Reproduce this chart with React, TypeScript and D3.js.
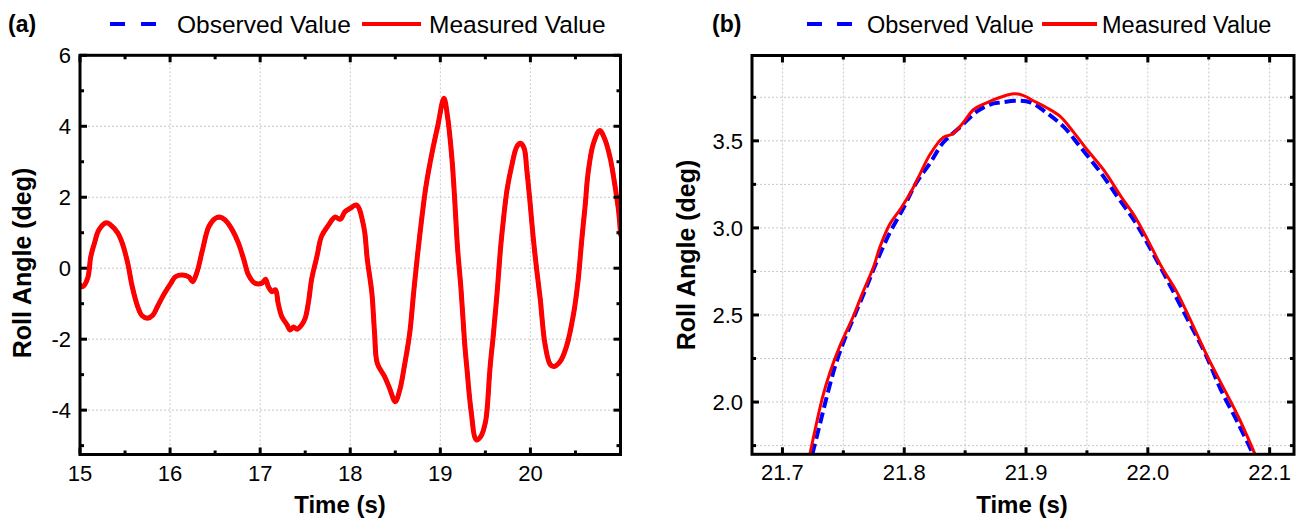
import React from 'react';
import * as d3 from 'd3';

// ---------- Panel (a): roll angle over 15–21 s ----------
const timeA = [
  15.0, 15.03, 15.085, 15.12, 15.16, 15.21, 15.29, 15.34, 15.42, 15.47, 15.53, 15.58, 15.64, 15.69, 15.75,
  15.81, 15.86, 15.94, 16.01, 16.06, 16.14, 16.21, 16.25, 16.3, 16.36, 16.43, 16.5, 16.55, 16.61, 16.69,
  16.76, 16.82, 16.87, 16.94, 17.02, 17.06, 17.09, 17.13, 17.17, 17.2, 17.24, 17.3, 17.33, 17.37, 17.41,
  17.46, 17.5, 17.54, 17.57, 17.63, 17.68, 17.76, 17.83, 17.89, 17.94, 18.0, 18.07, 18.15, 18.19, 18.24,
  18.27, 18.3, 18.38, 18.43, 18.5, 18.55, 18.6, 18.66, 18.71, 18.77, 18.84, 18.91, 18.97, 19.04, 19.08,
  19.13, 19.16, 19.19, 19.23, 19.27, 19.3, 19.34, 19.4, 19.45, 19.5, 19.52, 19.55, 19.59, 19.63, 19.67,
  19.7, 19.74, 19.79, 19.85, 19.89, 19.93, 19.96, 20.0, 20.03, 20.07, 20.11, 20.16, 20.22, 20.26, 20.33,
  20.4, 20.48, 20.53, 20.57, 20.61, 20.64, 20.7, 20.77, 20.83, 20.89, 20.94, 20.98, 21.0,
];
const measuredA = [
  -0.47, -0.52, -0.28, 0.33, 0.7, 1.08, 1.28, 1.22, 0.99, 0.7, 0.14, -0.52, -1.08, -1.34, -1.41,
  -1.32, -1.08, -0.7, -0.42, -0.24, -0.19, -0.25, -0.38, -0.1, 0.52, 1.17, 1.4, 1.44, 1.36, 1.08,
  0.7, 0.23, -0.19, -0.42, -0.42, -0.31, -0.52, -0.66, -0.61, -0.99, -1.36, -1.6, -1.74, -1.66, -1.72,
  -1.6, -1.41, -0.89, -0.33, 0.33, 0.89, 1.22, 1.44, 1.38, 1.59, 1.69, 1.78, 1.17, 0.23, -0.7,
  -1.83, -2.68, -3.05, -3.34, -3.76, -3.43, -2.77, -1.83, -0.52, 0.89, 2.3, 3.28, 3.99, 4.79, 4.27,
  3.05, 1.92, 0.61, -0.61, -2.11, -2.96, -3.99, -4.84, -4.74, -4.35, -3.95, -2.86, -1.83, -0.7, 0.61,
  1.36, 2.2, 2.86, 3.43, 3.52, 3.38, 2.77, 1.74, 0.89, -0.05, -0.89, -2.11, -2.72, -2.77, -2.63,
  -2.21, -1.27, -0.33, 0.8, 1.83, 2.68, 3.52, 3.88, 3.61, 3.05, 2.3, 1.59, 0.95,
];
const observedA = [
  -0.47, -0.52, -0.28, 0.33, 0.7, 1.08, 1.27, 1.22, 0.99, 0.7, 0.14, -0.52, -1.08, -1.34, -1.4,
  -1.32, -1.08, -0.7, -0.42, -0.24, -0.19, -0.25, -0.36, -0.1, 0.52, 1.17, 1.4, 1.43, 1.36, 1.08,
  0.7, 0.23, -0.19, -0.42, -0.42, -0.33, -0.5, -0.64, -0.63, -0.99, -1.36, -1.6, -1.72, -1.68, -1.7,
  -1.6, -1.41, -0.89, -0.33, 0.33, 0.89, 1.22, 1.43, 1.4, 1.58, 1.69, 1.77, 1.17, 0.23, -0.7,
  -1.83, -2.68, -3.05, -3.34, -3.74, -3.43, -2.77, -1.83, -0.52, 0.89, 2.3, 3.28, 3.99, 4.77, 4.27,
  3.05, 1.92, 0.61, -0.61, -2.11, -2.96, -3.99, -4.82, -4.74, -4.35, -3.95, -2.86, -1.83, -0.7, 0.61,
  1.36, 2.2, 2.86, 3.43, 3.51, 3.38, 2.77, 1.74, 0.89, -0.05, -0.89, -2.11, -2.7, -2.76, -2.63,
  -2.21, -1.27, -0.33, 0.8, 1.83, 2.68, 3.52, 3.86, 3.61, 3.05, 2.3, 1.59, 0.95,
];
const xTicksA = [15, 16, 17, 18, 19, 20];
const xMinorA = [15.5, 16.5, 17.5, 18.5, 19.5, 20.5];
const yTicksA = [-4, -2, 0, 2, 4, 6];
const yMinorA = [-5, -3, -1, 1, 3, 5];

// ---------- Panel (b): close-up of the peak near 21.9 s ----------
const timeMeasuredB = [
  21.7225, 21.728, 21.733, 21.739, 21.747, 21.758, 21.766, 21.775, 21.78, 21.788, 21.797, 21.805, 21.813,
  21.821, 21.832, 21.84, 21.849, 21.857, 21.868, 21.879, 21.89, 21.898, 21.906, 21.917, 21.928, 21.939,
  21.95, 21.964, 21.978, 21.989, 22.0, 22.011, 22.024, 22.035, 22.049, 22.06, 22.074, 22.088,
];
const measuredB = [
  1.7, 1.88, 2.03, 2.17, 2.32, 2.49, 2.63, 2.78, 2.89, 3.02, 3.11, 3.2, 3.31,
  3.42, 3.52, 3.54, 3.61, 3.68, 3.72, 3.75, 3.77, 3.76, 3.73, 3.69, 3.64, 3.55,
  3.45, 3.33, 3.18, 3.07, 2.93, 2.78, 2.63, 2.47, 2.26, 2.11, 1.92, 1.7,
];
const timeObservedB = [
  21.7245, 21.731, 21.736, 21.743, 21.751, 21.76, 21.769, 21.777, 21.788, 21.799, 21.81, 21.821, 21.832,
  21.846, 21.86, 21.871, 21.879, 21.893, 21.904, 21.917, 21.931, 21.944, 21.961, 21.975, 21.989, 22.003,
  22.016, 22.033, 22.047, 22.06, 22.074, 22.0865,
];
const observedB = [
  1.7, 1.88, 2.02, 2.2, 2.36, 2.51, 2.66, 2.8, 2.97, 3.11, 3.26, 3.37, 3.49,
  3.58, 3.67, 3.71, 3.72, 3.73, 3.72, 3.66, 3.58, 3.47, 3.32, 3.18, 3.04, 2.87,
  2.7, 2.47, 2.28, 2.07, 1.88, 1.7,
];
const xTicksB = [21.7, 21.8, 21.9, 22.0, 22.1];
const xMinorB = [21.75, 21.85, 21.95, 22.05];
const yTicksB = [2.0, 2.5, 3.0, 3.5];
const yMinorB = [1.75, 2.25, 2.75, 3.25, 3.75];

const legendLabels = ['Observed Value', 'Measured Value'];

const FONT = "'Liberation Sans', Arial, Helvetica, sans-serif";
const BLUE = '#0000ff';
const RED = '#ff0000';

type Series = { xs: number[]; ys: number[]; color: string; width: number; dash?: string };

type PanelProps = {
  id: string;
  left: number;
  right: number;
  top: number;
  bottom: number;
  xDomain: [number, number];
  yDomain: [number, number];
  xTicks: number[];
  xMinor: number[];
  yTicks: number[];
  yMinor: number[];
  xFmt: (v: number) => string;
  yFmt: (v: number) => string;
  minorGrid: boolean;
  series: Series[];
  tag: string;
  tagX: number;
  yTitleX: number;
  yTitleY: number;
  xTitleX: number;
  legend: { dashX: [number, number]; text1X: number; lineX: [number, number]; text2X: number; size: number; dash: string };
};

function Panel(p: PanelProps) {
  const x = d3.scaleLinear().domain(p.xDomain).range([p.left, p.right]);
  const y = d3.scaleLinear().domain(p.yDomain).range([p.bottom, p.top]);
  const line = d3
    .line<[number, number]>()
    .x((d) => x(d[0]))
    .y((d) => y(d[1]))
    .curve(d3.curveCatmullRom.alpha(0.5));

  const gridXs = p.minorGrid ? [...p.xTicks, ...p.xMinor] : p.xTicks;
  const gridYs = p.minorGrid ? [...p.yTicks, ...p.yMinor] : p.yTicks;
  const majorLen = 7;
  const minorLen = 4;
  const legendY = 24;

  return (
    <g>
      <defs>
        <clipPath id={`clip-${p.id}`}>
          <rect x={p.left} y={p.top} width={p.right - p.left} height={p.bottom - p.top} />
        </clipPath>
      </defs>

      {/* grid */}
      <g stroke="#c8c8c8" strokeWidth={1} strokeDasharray="2 2">
        {gridXs.map((v) => (
          <line key={`gx${v}`} x1={x(v)} x2={x(v)} y1={p.top} y2={p.bottom} />
        ))}
        {gridYs.map((v) => (
          <line key={`gy${v}`} x1={p.left} x2={p.right} y1={y(v)} y2={y(v)} />
        ))}
      </g>

      {/* data */}
      <g clipPath={`url(#clip-${p.id})`} fill="none" strokeLinejoin="round">
        {p.series.map((s, i) => (
          <path
            key={i}
            d={line(s.xs.map((t, k) => [t, s.ys[k]] as [number, number])) || ''}
            stroke={s.color}
            strokeWidth={s.width}
            strokeDasharray={s.dash}
            strokeLinecap={s.dash ? 'butt' : 'round'}
          />
        ))}
      </g>

      {/* frame */}
      <rect
        x={p.left}
        y={p.top}
        width={p.right - p.left}
        height={p.bottom - p.top}
        fill="none"
        stroke="#000"
        strokeWidth={3}
      />

      {/* inward ticks on all four sides */}
      <g stroke="#000" strokeWidth={3}>
        {p.xTicks.map((v) => (
          <g key={`xt${v}`}>
            <line x1={x(v)} x2={x(v)} y1={p.bottom} y2={p.bottom - majorLen} />
            <line x1={x(v)} x2={x(v)} y1={p.top} y2={p.top + majorLen} />
          </g>
        ))}
        {p.xMinor.map((v) => (
          <g key={`xm${v}`}>
            <line x1={x(v)} x2={x(v)} y1={p.bottom} y2={p.bottom - minorLen} />
            <line x1={x(v)} x2={x(v)} y1={p.top} y2={p.top + minorLen} />
          </g>
        ))}
        {p.yTicks.map((v) => (
          <g key={`yt${v}`}>
            <line x1={p.left} x2={p.left + majorLen} y1={y(v)} y2={y(v)} />
            <line x1={p.right} x2={p.right - majorLen} y1={y(v)} y2={y(v)} />
          </g>
        ))}
        {p.yMinor.map((v) => (
          <g key={`ym${v}`}>
            <line x1={p.left} x2={p.left + minorLen} y1={y(v)} y2={y(v)} />
            <line x1={p.right} x2={p.right - minorLen} y1={y(v)} y2={y(v)} />
          </g>
        ))}
      </g>

      {/* tick labels */}
      <g fontFamily={FONT} fontSize={22} fill="#000">
        {p.xTicks.map((v) => (
          <text key={`xl${v}`} x={x(v)} y={p.bottom + 26} textAnchor="middle">
            {p.xFmt(v)}
          </text>
        ))}
        {p.yTicks.map((v) => (
          <text key={`yl${v}`} x={p.left - 9} y={y(v)} dy="0.36em" textAnchor="end">
            {p.yFmt(v)}
          </text>
        ))}
      </g>

      {/* axis titles */}
      <text
        x={p.xTitleX}
        y={513}
        textAnchor="middle"
        fontFamily={FONT}
        fontWeight="bold"
        fontSize={24}
      >
        Time (s)
      </text>
      <text
        transform={`translate(${p.yTitleX},${p.yTitleY}) rotate(-90)`}
        textAnchor="middle"
        fontFamily={FONT}
        fontWeight="bold"
        fontSize={25}
      >
        Roll Angle (deg)
      </text>

      {/* panel tag */}
      <text x={p.tagX} y={32} fontFamily={FONT} fontWeight="bold" fontSize={23}>
        {p.tag}
      </text>

      {/* legend */}
      <line
        x1={p.legend.dashX[0]}
        x2={p.legend.dashX[1]}
        y1={legendY}
        y2={legendY}
        stroke={BLUE}
        strokeWidth={4}
        strokeDasharray={p.legend.dash}
      />
      <text x={p.legend.text1X} y={33} fontFamily={FONT} fontSize={p.legend.size}>
        {legendLabels[0]}
      </text>
      <line
        x1={p.legend.lineX[0]}
        x2={p.legend.lineX[1]}
        y1={legendY}
        y2={legendY}
        stroke={RED}
        strokeWidth={4}
      />
      <text x={p.legend.text2X} y={33} fontFamily={FONT} fontSize={p.legend.size}>
        {legendLabels[1]}
      </text>
    </g>
  );
}

export default function App() {
  const fmtInt = (v: number) => String(v);
  const fmt1 = d3.format('.1f');
  return (
    <svg
      width={1302}
      height={521}
      viewBox="0 0 1302 521"
      style={{ position: 'absolute', left: 0, top: 0, background: '#fff' }}
    >
      <rect width={1302} height={521} fill="#fff" />
      <Panel
        id="a"
        left={80}
        right={620.5}
        top={55.3}
        bottom={454.5}
        xDomain={[15, 21]}
        yDomain={[-5.25, 6]}
        xTicks={xTicksA}
        xMinor={xMinorA}
        yTicks={yTicksA}
        yMinor={yMinorA}
        xFmt={fmtInt}
        yFmt={fmtInt}
        minorGrid={false}
        series={[
          { xs: timeA, ys: observedA, color: BLUE, width: 4, dash: '11 5' },
          { xs: timeA, ys: measuredA, color: RED, width: 5 },
        ]}
        tag="(a)"
        tagX={8}
        yTitleX={31}
        yTitleY={263}
        xTitleX={340}
        legend={{ dashX: [110, 156], text1X: 177, lineX: [362, 421], text2X: 429, size: 24.5, dash: '15 16' }}
      />
      <Panel
        id="b"
        left={752}
        right={1294}
        top={55.5}
        bottom={454.3}
        xDomain={[21.675, 22.12]}
        yDomain={[1.7, 3.99]}
        xTicks={xTicksB}
        xMinor={xMinorB}
        yTicks={yTicksB}
        yMinor={yMinorB}
        xFmt={fmt1}
        yFmt={fmt1}
        minorGrid={true}
        series={[
          { xs: timeObservedB, ys: observedB, color: BLUE, width: 4, dash: '11 5' },
          { xs: timeMeasuredB, ys: measuredB, color: RED, width: 3 },
        ]}
        tag="(b)"
        tagX={712}
        yTitleX={695}
        yTitleY={255}
        xTitleX={1022}
        legend={{ dashX: [807, 853], text1X: 867, lineX: [1042, 1097], text2X: 1102, size: 23.5, dash: '15 15' }}
      />
    </svg>
  );
}
